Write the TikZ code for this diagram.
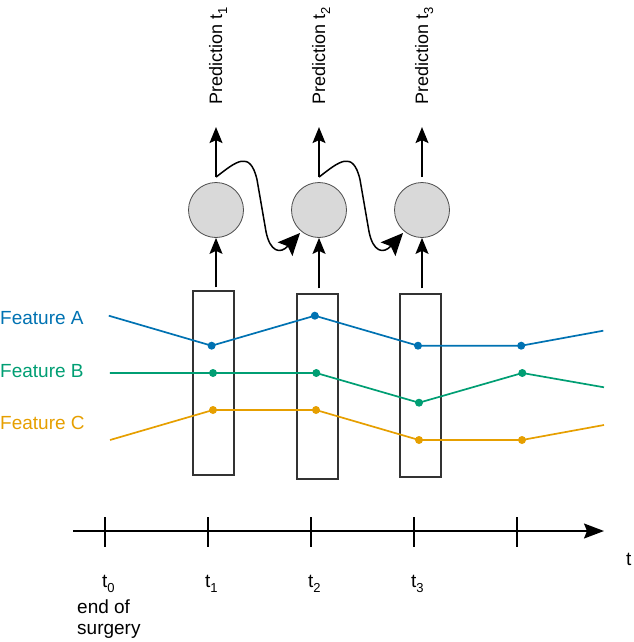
\documentclass[tikz,border=0pt]{standalone}
\usepackage{fontspec}
\setmainfont{Liberation Sans}
\usetikzlibrary{arrows.meta,calc}
\definecolor{fa}{HTML}{0072B2}
\definecolor{fb}{HTML}{009E73}
\definecolor{fc}{HTML}{E69F00}
\definecolor{cellfill}{HTML}{D9D9D9}
\newcommand\mysub[1]{\raisebox{-0.28em}{\fontsize{13}{13}\selectfont #1}}
\begin{document}
\begin{tikzpicture}[x=1pt,y=-1pt,
  lbl/.style={font=\fontsize{19}{22}\selectfont, inner sep=0pt, anchor=base west},
  predlbl/.style={font=\fontsize{18}{21}\selectfont, inner sep=0pt, rotate=90, anchor=base west},
  cell/.style={circle, draw=black!70, fill=cellfill, line width=0.8pt, minimum size=55pt, inner sep=0pt},
  winbox/.style={draw=black!80, line width=1.3pt, inner sep=0pt, minimum width=41pt},
  arr/.style={line width=1.4pt, -{Stealth[length=16pt,width=13pt,inset=3pt]}},
  squig/.style={line width=1.5pt, -{Stealth[length=22pt,width=20pt,inset=4pt]}},
  feat/.style={line width=1.7pt, line join=round},
  tick/.style={line width=1.4pt}]
\useasboundingbox (0,0) rectangle (633,642);

% windows
\node[winbox, minimum height=184pt] (b1) at (213.5,383) {};
\node[winbox, minimum height=185pt] (b2) at (317.5,386.5) {};
\node[winbox, minimum height=183pt] (b3) at (420.5,385.5) {};

% cells
\node[cell] (c1) at (216,210) {};
\node[cell] (c2) at (319,210) {};
\node[cell] (c3) at (422,210) {};

% box -> cell arrows
\draw[arr] (b1.north -| c1.south) ++(0,-3) -- (c1.south);
\draw[arr] (b2.north -| c2.south) ++(0,-5) -- (c2.south);
\draw[arr] (b3.north -| c3.south) ++(0,-5) -- (c3.south);

% prediction arrows and labels
\foreach \c/\n in {c1/1,c2/2,c3/3}{
  \coordinate (a\n) at ($(\c.north)+(0,-55)$);
  \draw[arr] ($(\c.north)+(0,-5)$) -- (a\n);
  \node[predlbl] (p\n) at ($(\c.north)+(6,-77)$) {Prediction t\mysub{\n}};
}

% recurrent connections
\foreach \a/\b in {c1/c2,c2/c3}{
  \draw[squig] ($(\a.north)+(0,-5)$) .. controls ($(\a.north)+(20,-20.5)$) and ($(\a.north)+(34,-32.5)$) .. ($(\a.north)+(41,-2.5)$) -- ($(\a.north)+(50,49.5)$) .. controls ($(\a.north)+(54,69.5)$) and ($(\a.north)+(64,72.5)$) .. ($(\b.center)+(-19,23)$);
}

% features
\draw[fa, feat] (108.8,315.7) -- (211.6,345.7) -- (314.8,315.7) -- (418,345.7) -- (521.2,345.7) -- (603.3,330.7);
\foreach \p in {(211.6,345.7),(314.8,315.7),(418,345.7),(521.2,345.7)} \fill[fa] \p circle (4pt);
\draw[fb, feat] (109.8,373) -- (213,373) -- (316.3,373) -- (419,402.7) -- (522.3,373) -- (604,387.3);
\foreach \p in {(213,373),(316.3,373),(419,402.7),(522.3,373)} \fill[fb] \p circle (4pt);
\draw[fc, feat] (110,440) -- (213,410) -- (316,410) -- (419,440) -- (522,440) -- (604,425);
\foreach \p in {(213,410),(316,410),(419,440),(522,440)} \fill[fc] \p circle (4pt);

\node[lbl, text=fa] (la) at (0,324) {Feature A};
\node[lbl, text=fb] (lb) at (0,377) {Feature B};
\node[lbl, text=fc] (lc) at (0,429) {Feature C};

% time axis
\coordinate (ts) at (73,531);
\coordinate (te) at (604,531);
\draw[line width=1.5pt, -{Stealth[length=20pt,width=15pt,inset=3pt]}] (ts) -- (te);
\foreach \x in {105,208,311,414,517} \draw[tick] (\x,517) -- (\x,547);
\node[lbl] (l0) at (102,587) {t\mysub{0}};
\node[lbl] (l1) at (205,587) {t\mysub{1}};
\node[lbl] (l2) at (308,587) {t\mysub{2}};
\node[lbl] (l3) at (411,587) {t\mysub{3}};
\node[lbl] (le1) at (77,613) {end of};
\node[lbl] (le2) at (77,634) {surgery};
\node[lbl] (lt) at (626,565) {t};
\end{tikzpicture}
\end{document}
